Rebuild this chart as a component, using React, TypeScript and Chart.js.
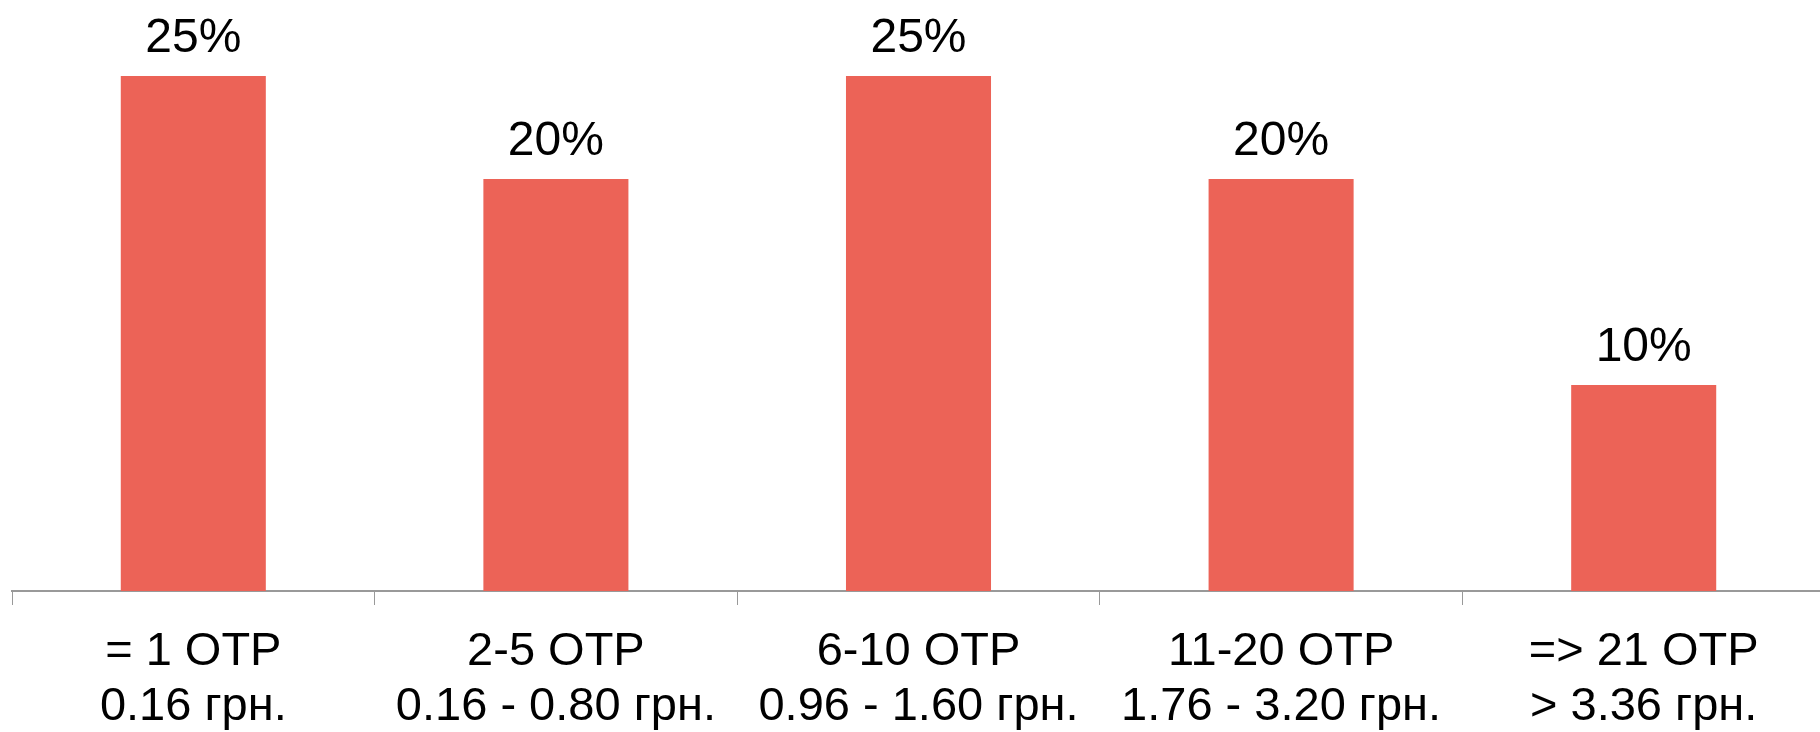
import React, { useEffect, useRef } from "react";
import { Chart, registerables } from "chart.js";

Chart.register(...registerables);

const categories: string[][] = [
  ["= 1 OTP", "0.16 грн."],
  ["2-5 OTP", "0.16 - 0.80 грн."],
  ["6-10 OTP", "0.96 - 1.60 грн."],
  ["11-20 OTP", "1.76 - 3.20 грн."],
  ["=> 21 OTP", "> 3.36 грн."],
];
const values: number[] = [25, 20, 25, 20, 10];
const valueLabels: string[] = ["25%", "20%", "25%", "20%", "10%"];

const barColor = "#EC6357";
const axisColor = "#999999";
const fontFamily = "'Liberation Sans', Arial, sans-serif";

const valueLabelPlugin = {
  id: "valueLabels",
  afterDatasetsDraw(chart: any) {
    const ctx = chart.ctx;
    const meta = chart.getDatasetMeta(0);
    ctx.save();
    ctx.font = `48px ${fontFamily}`;
    ctx.fillStyle = "#000000";
    ctx.textAlign = "center";
    ctx.textBaseline = "alphabetic";
    meta.data.forEach((bar: any, i: number) => {
      ctx.fillText(valueLabels[i], bar.x, bar.y - 24);
    });
    ctx.restore();
  },
};

export default function App() {
  const canvasRef = useRef<HTMLCanvasElement | null>(null);

  useEffect(() => {
    document.body.style.margin = "0";
    const canvas = canvasRef.current;
    if (!canvas) return;
    const chart = new Chart(canvas, {
      type: "bar",
      data: {
        labels: categories,
        datasets: [
          {
            data: values,
            backgroundColor: barColor,
            borderWidth: 0,
            categoryPercentage: 1,
            barPercentage: 0.4,
          },
        ],
      },
      options: {
        animation: false,
        responsive: false,
        maintainAspectRatio: false,
        layout: { padding: { left: 12, right: 0, top: 76, bottom: 0 } },
        plugins: {
          legend: { display: false },
          tooltip: { enabled: false },
        },
        scales: {
          x: {
            offset: true,
            afterFit: (scale: any) => {
              scale.height = 141;
            },
            grid: {
              offset: true,
              drawOnChartArea: false,
              drawTicks: true,
              tickLength: 14,
              color: axisColor,
              lineWidth: 1,
            },
            border: { display: true, color: axisColor, width: 2 },
            ticks: {
              color: "#000000",
              font: { family: fontFamily, size: 47, lineHeight: 1.17 },
              padding: 20,
              maxRotation: 0,
              autoSkip: false,
            },
          },
          y: {
            display: false,
            min: 0,
            max: 25,
          },
        },
      },
      plugins: [valueLabelPlugin],
    });
    return () => chart.destroy();
  }, []);

  return (
    <div style={{ position: "absolute", left: 0, top: 0, width: 1820, height: 732, overflow: "hidden" }}>
      <canvas ref={canvasRef} width={1825} height={732} style={{ width: 1825, height: 732, display: "block" }} />
    </div>
  );
}
